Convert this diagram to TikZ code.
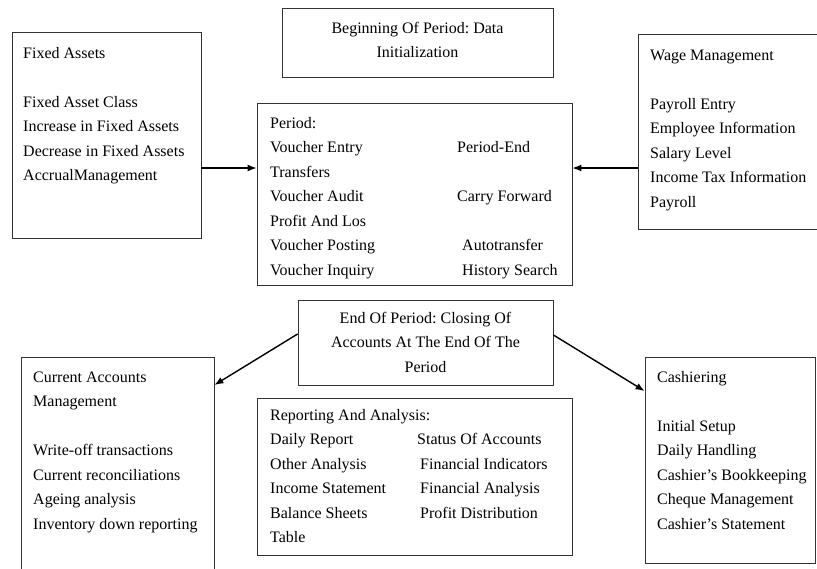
\documentclass[tikz,border=0pt]{standalone}
\usepackage{fontspec}
\setmainfont{Liberation Serif}
\usetikzlibrary{arrows.meta}
\frenchspacing
\begin{document}
\begin{tikzpicture}[x=1pt,y=-1pt,
  box/.style={draw=black!80,line width=0.8pt,inner sep=0pt},
  txt/.style={inner sep=0pt,anchor=base west,font=\fontsize{16}{24.5}\selectfont\frenchspacing},
  ctxt/.style={inner sep=0pt,anchor=base,font=\fontsize{16}{24.5}\selectfont\frenchspacing},
  arr/.style={line width=1.4pt,-{Latex[length=9pt,width=7pt]}}]
\useasboundingbox (0,0) rectangle (817,568);
\fill[white] (0,0) rectangle (817,568);
% boxes
\node[box,minimum width=189pt,minimum height=206pt] (fa) at (106.5,135) {};
\node[box,minimum width=271pt,minimum height=69pt] (beg) at (417.5,42.5) {};
\node[box,minimum width=315pt,minimum height=182pt] (per) at (414.5,194) {};
\node[box,minimum width=182pt,minimum height=195pt] (wage) at (729,131.5) {};
\node[box,minimum width=255pt,minimum height=85pt] (end) at (425.5,342.5) {};
\node[box,minimum width=315pt,minimum height=157pt] (rep) at (414.5,476.5) {};
\node[box,minimum width=193pt,minimum height=218pt] (cur) at (117.5,466) {};
\node[box,minimum width=170pt,minimum height=206pt] (cash) at (730,460) {};
% texts
\node[txt] (tfa) at (23,58) {\begin{tabular}[t]{@{}l@{}}Fixed Assets\\ \\ Fixed Asset Class\\ Increase in Fixed Assets\\ Decrease in Fixed Assets\\ AccrualManagement\end{tabular}};
\node[ctxt] (tbeg) at (417.5,33) {\begin{tabular}[t]{@{}c@{}}Beginning Of Period: Data\\ Initialization\end{tabular}};
\node[txt] (tper) at (270,128) {\begin{tabular}[t]{@{}l@{}}Period:\\
\makebox[187pt][l]{Voucher Entry}Period-End\\
Transfers\\
\makebox[187pt][l]{Voucher Audit}Carry Forward\\
Profit And Los\\
\makebox[192pt][l]{Voucher Posting}Autotransfer\\
\makebox[192pt][l]{Voucher Inquiry}History Search\end{tabular}};
\node[txt] (twage) at (650,60) {\begin{tabular}[t]{@{}l@{}}Wage Management\\ \\ Payroll Entry\\ Employee Information\\ Salary Level\\ Income Tax Information\\ Payroll\end{tabular}};
\node[ctxt] (tend) at (425.5,323) {\begin{tabular}[t]{@{}c@{}}End Of Period: Closing Of\\ Accounts At The End Of The\\ Period\end{tabular}};
\node[txt] (trep) at (270,420) {\begin{tabular}[t]{@{}l@{}}Reporting And Analysis:\\
\makebox[147pt][l]{Daily Report}Status Of Accounts\\
\makebox[150pt][l]{Other Analysis}Financial Indicators\\
\makebox[150pt][l]{Income Statement}Financial Analysis\\
\makebox[150pt][l]{Balance Sheets}Profit Distribution\\
Table\end{tabular}};
\node[txt] (tcur) at (33,382) {\begin{tabular}[t]{@{}l@{}}Current Accounts\\ Management\\ \\ Write-off transactions\\ Current reconciliations\\ Ageing analysis\\ Inventory down reporting\end{tabular}};
\node[txt] (tcash) at (657,382) {\begin{tabular}[t]{@{}l@{}}Cashiering\\ \\ Initial Setup\\ Daily Handling\\ Cashier's Bookkeeping\\ Cheque Management\\ Cashier's Statement\end{tabular}};
% connectors
\coordinate (ya) at (0,168);
\coordinate (e1) at (0,334);
\coordinate (c1) at (0,385);
\coordinate (e2) at (0,335);
\coordinate (c2) at (0,391);
\draw[arr] (fa.east |- ya) -- (per.west |- ya);
\draw[arr] (wage.west |- ya) -- (per.east |- ya);
\draw[arr] (end.west |- e1) -- (cur.east |- c1);
\draw[arr] (end.east |- e2) -- (cash.west |- c2);
\end{tikzpicture}
\end{document}
